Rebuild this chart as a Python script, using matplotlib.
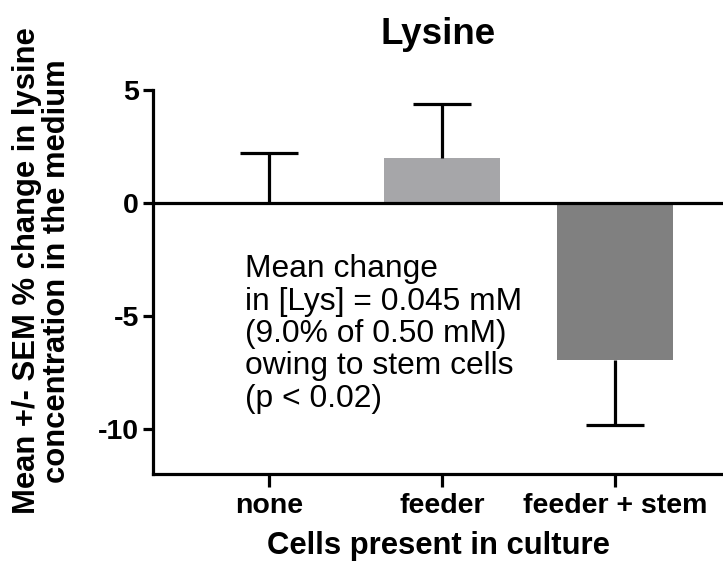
import matplotlib
matplotlib.use("Agg")
import matplotlib.pyplot as plt
import numpy as np

plt.rcParams['font.family'] = ['Liberation Sans', 'DejaVu Sans']
plt.rcParams['axes.unicode_minus'] = False

categories = ["none", "feeder", "feeder + stem"]
means = [0.0, 2.0, -6.95]
sem = [2.23, 2.38, 2.9]
bar_colors = ["#a6a6a9", "#a6a6a9", "#808080"]
yticks = [-10, -5, 0, 5]
title = "Lysine"
xlabel = "Cells present in culture"
ylabel = "Mean +/- SEM % change in lysine\nconcentration in the medium"
note = ("Mean change\nin [Lys] = 0.045 mM\n(9.0% of 0.50 mM)\n"
        "owing to stem cells\n(p < 0.02)")

fig = plt.figure(figsize=(7.23, 5.72), dpi=100)
ax = fig.add_axes([0.2116, 0.1713, 0.7884, 0.6714])

x = np.arange(len(categories))
bar_w = 0.67
ax.bar(x, means, width=bar_w, color=bar_colors, edgecolor='none', zorder=2)

# one-sided error bars (no cap at the bar end)
m = np.array(means)
s = np.array(sem)
ends = np.where(m < 0, m - s, m + s)
ax.vlines(x, m, ends, color='black', lw=2.3, zorder=3)
ax.hlines(ends, x - bar_w / 4, x + bar_w / 4, color='black', lw=2.3, zorder=3)

ax.axhline(0, color='black', lw=2.3, zorder=4)

ax.set_xlim(-0.67, 2.625)
ax.set_ylim(-12, 5)
ax.set_yticks(yticks)
ax.set_xticks(x)
ax.set_xticklabels(categories)

for sp in ['top', 'right']:
    ax.spines[sp].set_visible(False)
for sp in ['left', 'bottom']:
    ax.spines[sp].set_linewidth(2.3)

ax.tick_params(axis='y', length=7, width=2.3, pad=3, labelsize=20.5)
ax.tick_params(axis='x', length=9, width=2.3, pad=5, labelsize=20.5)
for lab in ax.get_xticklabels() + ax.get_yticklabels():
    lab.set_fontweight('bold')

ax.set_title(title, fontsize=26.5, fontweight='bold', pad=33)
ax.set_xlabel(xlabel, fontsize=22.3, fontweight='bold', labelpad=8)
ax.set_ylabel(ylabel, fontsize=22.3, fontweight='bold', linespacing=1.0)
ax.yaxis.set_label_coords(-0.142, 0.529)

ax.text(0.162, 0.572, note, transform=ax.transAxes, fontsize=22.9,
        ha='left', va='top', linespacing=1.1)

fig.savefig("out.png", dpi=100)
